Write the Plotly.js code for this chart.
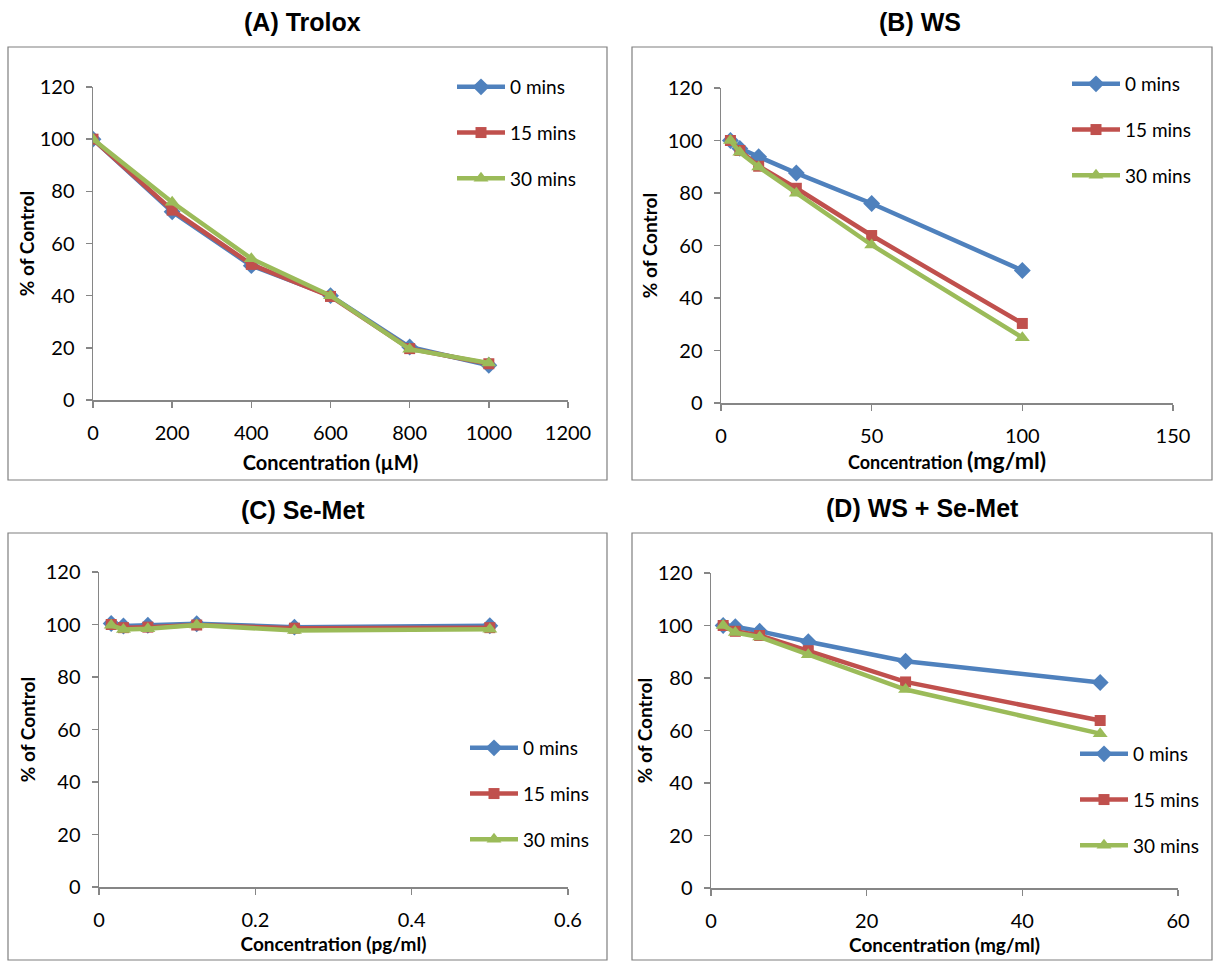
<!DOCTYPE html>
<html>
<head>
<meta charset="utf-8">
<script src="https://cdn.plot.ly/plotly-3.0.1.min.js"></script>
<style>html,body{margin:0;padding:0;background:#fff;}#chart{width:1213px;height:963px;}</style>
</head>
<body>
<div id="chart"></div>
<script>
// ---- data ----
const seriesNames = ["0 mins", "15 mins", "30 mins"];

const troloxConc = [0, 200, 400, 600, 800, 1000];
const trolox0 = [100, 72.2, 51.5, 40.0, 20.3, 13.3];
const trolox15 = [100, 72.8, 52.0, 39.7, 19.7, 13.9];
const trolox30 = [100, 75.8, 54.2, 40.0, 19.5, 14.2];

const wsConc = [3.125, 6.25, 12.5, 25, 50, 100];
const ws0 = [100, 97.0, 93.8, 87.6, 76.0, 50.5];
const ws15 = [100, 96.2, 90.2, 81.8, 63.8, 30.3];
const ws30 = [100, 95.5, 89.9, 79.9, 60.2, 24.9];

const semetConc = [0.015625, 0.03125, 0.0625, 0.125, 0.25, 0.5];
const semet0 = [100.4, 99.4, 99.7, 100.3, 99.0, 99.5];
const semet15 = [100.0, 98.8, 99.0, 99.8, 98.6, 98.8];
const semet30 = [99.7, 98.1, 98.4, 99.8, 97.7, 98.2];

const comboConc = [1.5625, 3.125, 6.25, 12.5, 25, 50];
const combo0 = [100, 99.5, 97.8, 93.8, 86.4, 78.3];
const combo15 = [100, 97.8, 96.2, 90.4, 78.5, 63.8];
const combo30 = [100, 97.3, 95.6, 88.9, 75.6, 58.8];

const panelTitles = ["(A) Trolox", "(B) WS", "(C) Se-Met", "(D) WS + Se-Met"];
const yTitle = "% of Control";
const xTitles = [
  "Concentration (µM)",
  "Concentration <span style='font-size:23px'>(mg/ml)</span>",
  "Concentration (pg/ml)",
  "Concentration (mg/ml)"
];
const yTicks = [0, 20, 40, 60, 80, 100, 120];

// ---- styling ----
const W = 1213, H = 963;
const px = v => v / W;
const py = v => 1 - v / H;
const colors = ["#4F81BD", "#C0504D", "#9BBB59"];
const symbols = ["diamond", "square", "triangle-up"];
const msize = [13, 11, 13];
const FONT = "Lato, 'Open Sans', sans-serif";
const axisGray = "#868686";

const panels = [
  {x: troloxConc, ys: [trolox0, trolox15, trolox30], xr: [0, 1200], dt: 200,
   xd: [93, 568], yd: [400, 87], leg: [452, 68], xts: 20, xso: 13, yso: 0},
  {x: wsConc, ys: [ws0, ws15, ws30], xr: [0, 150], dt: 50,
   xd: [721, 1173], yd: [403, 88], leg: [1067, 65], xts: 18, xso: 8, yso: 5},
  {x: semetConc, ys: [semet0, semet15, semet30], xr: [0, 0.6], dt: 0.2,
   xd: [99, 568], yd: [887, 572], leg: [465, 729], xts: 19, xso: 8, yso: 5},
  {x: comboConc, ys: [combo0, combo15, combo30], xr: [0, 60], dt: 20,
   xd: [711, 1178], yd: [888, 573], leg: [1075, 735], xts: 19, xso: 8, yso: 0}
];

const traces = [];
const layout = {
  width: W, height: H,
  margin: {l: 0, r: 0, t: 0, b: 0},
  paper_bgcolor: "#fff", plot_bgcolor: "rgba(0,0,0,0)",
  font: {family: FONT, size: 16, color: "#000"},
  showlegend: true,
  annotations: [], shapes: []
};

panels.forEach((p, i) => {
  const n = i + 1;
  const xa = n === 1 ? "xaxis" : "xaxis" + n;
  const ya = n === 1 ? "yaxis" : "yaxis" + n;
  const lg = n === 1 ? "legend" : "legend" + n;
  p.ys.forEach((y, k) => {
    traces.push({
      type: "scatter", mode: "lines+markers",
      x: p.x, y: y, name: seriesNames[k],
      xaxis: "x" + (n === 1 ? "" : n), yaxis: "y" + (n === 1 ? "" : n),
      legend: lg, legendgroup: "g" + n + "_" + k,
      line: {color: colors[k], width: 4.5},
      marker: {color: colors[k], symbol: symbols[k], size: msize[k]},
      hoverinfo: "x+y+name"
    });
  });
  layout[xa] = {
    domain: [px(p.xd[0]), px(p.xd[1])], anchor: "y" + (n === 1 ? "" : n),
    range: p.xr, tick0: 0, dtick: p.dt, showgrid: false, zeroline: false,
    showline: true, linecolor: axisGray, linewidth: 1.5,
    ticks: "outside", ticklen: 6, tickcolor: axisGray, tickwidth: 1.5,
    ticklabelstandoff: 8,
    tickfont: {family: FONT, size: 20, color: "#000"},
    title: {text: "<b>" + xTitles[i] + "</b>", font: {family: FONT, size: p.xts, color: "#000"}, standoff: p.xso},
    fixedrange: true
  };
  layout[ya] = {
    domain: [py(p.yd[0]), py(p.yd[1])], anchor: "x" + (n === 1 ? "" : n),
    range: [0, 120], tickvals: yTicks, showgrid: false, zeroline: false,
    showline: true, linecolor: axisGray, linewidth: 1.5,
    ticks: "outside", ticklen: 6, tickcolor: axisGray, tickwidth: 1.5,
    ticklabelstandoff: 7,
    tickfont: {family: FONT, size: 20, color: "#000"},
    title: {text: "<b>" + yTitle + "</b>", font: {family: FONT, size: 19, color: "#000"}, standoff: p.yso},
    fixedrange: true
  };
  layout[lg] = {
    x: px(p.leg[0]), y: py(p.leg[1]), xanchor: "left", yanchor: "top",
    bgcolor: "rgba(0,0,0,0)", borderwidth: 0,
    font: {family: FONT, size: 19, color: "#000"},
    traceorder: "grouped", tracegroupgap: 18, itemwidth: 48
  };
});

// panel frames and titles
const frames = [[8, 47, 607, 480], [632, 47, 1212, 480], [8, 533, 607, 960], [632, 533, 1212, 960]];
const titlePos = [[302, 22], [920, 22], [303, 510], [922, 508]];
frames.forEach((f, i) => {
  layout.shapes.push({type: "rect", xref: "paper", yref: "paper",
    x0: px(f[0]), x1: px(f[2]), y0: py(f[3]), y1: py(f[1]),
    line: {color: "#7f7f7f", width: 1.2}, fillcolor: "rgba(0,0,0,0)", layer: "below"});
  layout.annotations.push({xref: "paper", yref: "paper",
    x: px(titlePos[i][0]), y: py(titlePos[i][1]), xanchor: "center", yanchor: "middle",
    showarrow: false, text: "<b>" + panelTitles[i] + "</b>",
    font: {family: "'Liberation Sans Narrow', 'Liberation Sans', Arial, sans-serif", size: 25, color: "#000"}});
});

Plotly.newPlot("chart", traces, layout, {displayModeBar: false, staticPlot: true});
</script>
</body>
</html>
